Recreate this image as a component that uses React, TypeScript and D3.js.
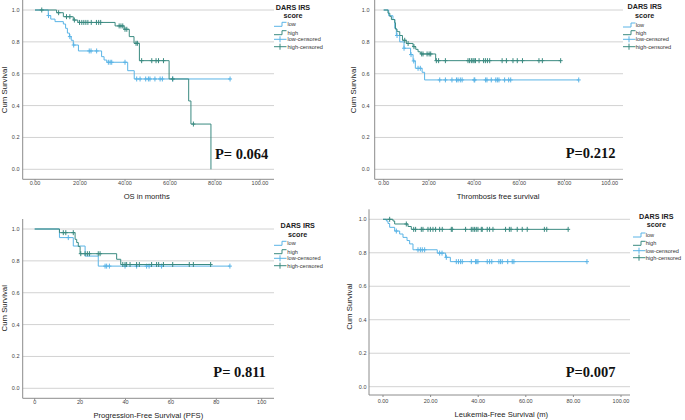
import React from "react";
import * as d3 from "d3";

const LOW = "#5AB4E6";
const HIGH = "#3A8A80";

// [time, survival after the drop]
const osLowSteps: [number, number][] = [
  [5.9, 0.965], [7, 0.943], [8.9, 0.927], [12.6, 0.912], [13.6, 0.885], [14.4, 0.855],
  [15.3, 0.833], [16.1, 0.81], [17, 0.78], [19.3, 0.743], [29.6, 0.707], [30.7, 0.686],
  [31.9, 0.672], [41.2, 0.619], [44.1, 0.567],
];
const osLowCensored = [6, 15.5, 17.2, 24.1, 24.9, 27.4, 32.6, 33.4, 34.1, 40, 45.2, 46.7, 49.2, 50.4, 51.1, 53.3, 55.6, 56.6, 61.2, 86.7];
const osHighSteps: [number, number][] = [
  [9.6, 0.983], [12.6, 0.958], [17, 0.937], [19, 0.922], [35.6, 0.9], [39.6, 0.879],
  [41.9, 0.833], [44, 0.791], [46.4, 0.682], [59.6, 0.567], [68.3, 0.429], [69.3, 0.284], [78.2, 0],
];
const osHighCensored = [3, 10.5, 14, 15.5, 17.5, 19.8, 20.8, 21.7, 22.6, 23.5, 25, 27.3, 28.3, 29.2, 37.4, 38.2, 39, 40, 40.8, 44.9, 45.5, 47.4, 51.9, 53.8, 54.9, 57.1, 61.2, 70.4];

const tfsLowSteps: [number, number][] = [
  [2.2, 0.964], [4.1, 0.94], [4.9, 0.885], [5.6, 0.84], [7.1, 0.8], [9, 0.76], [11.9, 0.72],
  [13, 0.68], [14, 0.634], [17, 0.609], [18.1, 0.561],
];
const tfsLowCensored = [5.9, 9, 12.1, 13.3, 15.2, 16.2, 24.8, 27.3, 30.2, 32.2, 32.9, 33.9, 34.7, 40, 40.3, 45.1, 45.7, 47.6, 49.6, 50.3, 51, 53.5, 55.3, 56.2, 86.3];
const tfsHighSteps: [number, number][] = [
  [1.9, 0.98], [2.7, 0.96], [3.4, 0.94], [4.9, 0.92], [5.2, 0.88], [5.9, 0.864], [7.1, 0.84],
  [8.3, 0.81], [10, 0.79], [13, 0.77], [14.2, 0.753], [15.2, 0.738], [16.2, 0.724], [23, 0.682],
];
const tfsHighCensored = [9.3, 10.8, 13.4, 16.8, 17.4, 19.2, 20.1, 20.8, 23.3, 24.3, 27.3, 37.3, 38, 38.8, 39.5, 40, 40.6, 42.2, 44.2, 45, 45.9, 46.9, 52.4, 54.3, 57.2, 59.1, 61.4, 68.7, 70.2, 78.3];

const pfsLowSteps: [number, number][] = [[10.9, 0.946], [17, 0.893], [22.2, 0.83], [28, 0.767]];
const pfsLowCensored = [14.8, 31, 31.7, 32.9, 39.8, 44.9, 49.3, 50.4, 55.9, 86];
const pfsHighSteps: [number, number][] = [
  [10.9, 0.977], [17.8, 0.935], [18.5, 0.915], [19.2, 0.89], [20, 0.845], [36.1, 0.81], [37.9, 0.777],
];
const pfsHighCensored = [12.6, 13.7, 17, 20.3, 22.2, 23.2, 24.1, 28, 28.8, 38.8, 39.8, 40.5, 42, 44.9, 46.1, 51.5, 53.7, 54.6, 56.7, 60.8, 68.1, 69.9, 77.5];

const lfsLowSteps: [number, number][] = [
  [1.4, 0.99], [2.1, 0.975], [2.8, 0.952], [4.9, 0.93], [7, 0.912], [8.4, 0.892], [10.1, 0.873],
  [11.2, 0.853], [12.6, 0.818], [22.8, 0.798], [26.3, 0.773], [28.3, 0.747],
];
const lfsLowCensored = [5.6, 14.7, 15.7, 16.5, 17.5, 23.8, 24.8, 26.6, 30.8, 31.7, 32.6, 33.3, 37.1, 38.9, 39.4, 39.9, 43.8, 44.8, 45.7, 48.7, 49.4, 50.1, 52.4, 54.3, 55, 85.7];
const lfsHighSteps: [number, number][] = [[4.2, 0.99], [4.9, 0.972], [10.5, 0.957], [11.9, 0.94]];
const lfsHighCensored = [2.8, 9.8, 12.9, 13.7, 16.1, 16.8, 18.9, 19.9, 21, 22.1, 23.8, 24.9, 28.7, 29.1, 34.7, 37.1, 37.8, 38.5, 39.2, 39.9, 41.3, 41.7, 43.8, 44.8, 46.2, 51.5, 53.1, 53.8, 56.4, 58.5, 60.6, 67.8, 68.8, 77.8];

const xTicks = [0, 20, 40, 60, 80, 100];
const yTicks = [0, 0.2, 0.4, 0.6, 0.8, 1.0];
const legendItems = ["low", "high", "low-censored", "high-censored"];

const panels = [
  {
    low: osLowSteps, lowC: osLowCensored, high: osHighSteps, highC: osHighCensored,
    title: "OS in months", p: "P= 0.064", fmt: d3.format(".2f"),
    axisX: 22.7, x0: 35, x100: 260, right: 274, y1: 10, y0: 169.3, base: 179.3, tickY: 183.3, tickR: 19.5,
    lab: [146.7, 196.7], ylab: [4, 90], pPos: [215, 159.3],
    leg: { cx: 293, t1: 7, t2: 15, ys: [24.3, 32.7, 39.3, 46.7], sx: 274, tx: 287.5 },
  },
  {
    low: tfsLowSteps, lowC: tfsLowCensored, high: tfsHighSteps, highC: tfsHighCensored,
    title: "Thrombosis free survival", p: "P=0.212", fmt: d3.format(".2f"),
    axisX: 374.7, x0: 383.7, x100: 609.7, right: 623, y1: 10, y0: 169.3, base: 179.3, tickY: 183.3, tickR: 369.5,
    lab: [498, 196.7], ylab: [353, 90], pPos: [565.7, 158.3],
    leg: { cx: 644.7, t1: 6.7, t2: 15, ys: [25, 32.7, 39.3, 46.7], sx: 623, tx: 635.7 },
  },
  {
    low: pfsLowSteps, lowC: pfsLowCensored, high: pfsHighSteps, highC: pfsHighCensored,
    title: "Progression-Free Survival (PFS)", p: "P= 0.811", fmt: d3.format("d"),
    axisX: 22.7, x0: 34.7, x100: 261.7, right: 274, y1: 229, y0: 388.3, base: 398.3, tickY: 402.3, tickR: 19.5,
    lab: [148.3, 415], ylab: [4, 308.3], pPos: [213.3, 376.7],
    leg: { cx: 297.7, t1: 225.7, t2: 234, ys: [243.3, 251.7, 258.3, 265.7], sx: 274, tx: 287.3 },
  },
  {
    low: lfsLowSteps, lowC: lfsLowCensored, high: lfsHighSteps, highC: lfsHighCensored,
    title: "Leukemia-Free Survival (m)", p: "P=0.007", fmt: d3.format(".2f"),
    axisX: 369, x0: 383, x100: 621, right: 630, y1: 219.3, y0: 386.7, base: 395, tickY: 400.7, tickR: 366.5,
    lab: [501.3, 414], ylab: [349, 306.7], pPos: [565.7, 376.7],
    leg: { cx: 656.3, t1: 216, t2: 224.3, ys: [235, 243.3, 250.7, 257.7], sx: 633, tx: 645.7 },
  },
];

const survAt = (steps: [number, number][], t: number) => {
  let s = 1;
  steps.forEach(([st, sv]) => { if (st <= t) s = sv; });
  return s;
};

const Curve = ({ steps, cens, color, x, y }: any) => {
  const last = steps[steps.length - 1];
  const end = Math.max(last[0], d3.max(cens as number[]) || 0);
  const pts: [number, number][] = [[0, 1], ...steps, [end, last[1]]];
  const line = d3.line<[number, number]>().x((d) => x(d[0])).y((d) => y(d[1])).curve(d3.curveStepAfter);
  return (
    <g>
      <path d={line(pts) || ""} fill="none" stroke={color} strokeWidth={1} />
      {cens.map((t: number, i: number) => {
        const cx = x(t), cy = y(survAt(steps, t));
        return (
          <path key={i} d={`M${cx},${cy - 2.5}V${cy + 2.5}M${cx - 2},${cy}H${cx + 2}`} stroke={color} strokeWidth={1} />
        );
      })}
    </g>
  );
};

const Panel = ({ p }: any) => {
  const x = d3.scaleLinear().domain([0, 100]).range([p.x0, p.x100]);
  const y = d3.scaleLinear().domain([0, 1]).range([p.y0, p.y1]);
  const L = p.leg;
  return (
    <g fontFamily="'Liberation Sans', Arial, sans-serif">
      {yTicks.map((v) => (
        <g key={v}>
          <line x1={p.axisX} x2={p.right} y1={y(v)} y2={y(v)} stroke="#D2D2D2" strokeWidth={1} />
          <text x={p.tickR} y={y(v)} dy="0.35em" textAnchor="end" fontSize={5.5} fill="#444">{d3.format(".1f")(v)}</text>
        </g>
      ))}
      <line x1={p.axisX} x2={p.axisX} y1={p.y1 - 10} y2={p.base} stroke="#8C8C8C" />
      <line x1={p.axisX} x2={p.right} y1={p.base} y2={p.base} stroke="#8C8C8C" />
      {xTicks.map((v) => (
        <g key={v}>
          <line x1={x(v)} x2={x(v)} y1={p.base} y2={p.base + 2} stroke="#8C8C8C" />
          <text x={x(v)} y={p.tickY} dy="0.35em" textAnchor="middle" fontSize={5.5} fill="#444">{p.fmt(v)}</text>
        </g>
      ))}
      <Curve steps={p.low} cens={p.lowC} color={LOW} x={x} y={y} />
      <Curve steps={p.high} cens={p.highC} color={HIGH} x={x} y={y} />
      <text x={p.lab[0]} y={p.lab[1]} dy="0.35em" textAnchor="middle" fontSize={7.6} fill="#1a1a1a">{p.title}</text>
      <text transform={`translate(${p.ylab[0]},${p.ylab[1]}) rotate(-90)`} dy="0.35em" textAnchor="middle" fontSize={7.8} fill="#1a1a1a">Cum Survival</text>
      <text x={p.pPos[0]} y={p.pPos[1]} fontFamily="'Liberation Serif', 'Times New Roman', serif" fontWeight="bold" fontSize={14.5} fill="#111">{p.p}</text>
      <text x={L.cx} y={L.t1} dy="0.35em" textAnchor="middle" fontSize={7.2} fontWeight="bold" fill="#222">DARS IRS</text>
      <text x={L.cx} y={L.t2} dy="0.35em" textAnchor="middle" fontSize={7.2} fontWeight="bold" fill="#222">score</text>
      {legendItems.map((name, i) => {
        const yy = L.ys[i];
        const c = i % 2 === 0 ? LOW : HIGH;
        const sym = i < 2
          ? `M${L.sx},${yy + 2}H${L.sx + 8}V${yy - 2}H${L.sx + 12.5}`
          : `M${L.sx},${yy}H${L.sx + 12.5}M${L.sx + 6},${yy - 3}V${yy + 3}`;
        return (
          <g key={name}>
            <path d={sym} fill="none" stroke={c} strokeWidth={1} />
            <text x={L.tx} y={yy} dy="0.35em" fontSize={5.6} fill="#333">{name}</text>
          </g>
        );
      })}
    </g>
  );
};

export default function App() {
  return (
    <svg width={685} height={420} style={{ position: "absolute", left: 0, top: 0, background: "#fff" }}>
      <rect width={685} height={420} fill="#fff" />
      {panels.map((p, i) => <Panel key={i} p={p} />)}
    </svg>
  );
}
